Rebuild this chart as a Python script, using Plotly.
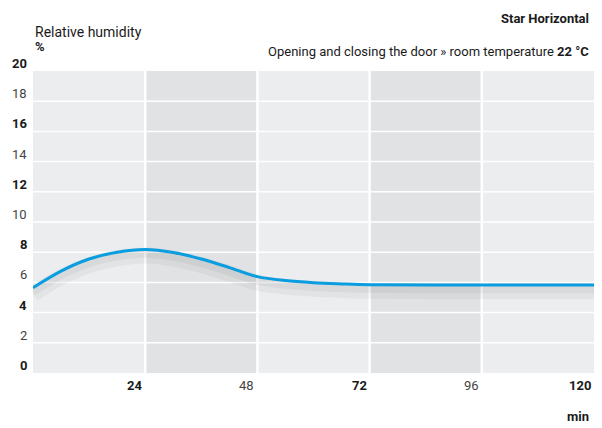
import plotly.graph_objects as go

# ---- data ----
minutes = [0, 6, 12, 18, 24, 30, 36, 42, 48, 54, 60, 66, 72, 96, 120]
humidity = [5.65, 6.75, 7.55, 8.0, 8.18, 7.98, 7.55, 6.98, 6.38, 6.12, 5.98, 5.9, 5.84, 5.82, 5.82]

x_ticks = [24, 48, 72, 96, 120]
x_bold = [True, False, True, False, True]
y_ticks = [0, 2, 4, 6, 8, 10, 12, 14, 16, 18, 20]
y_bold = [True, False, True, False, True, False, True, False, True, False, True]
dark_bands = [(24, 48), (72, 96)]

FONT = "Roboto, sans-serif"
DARK = "#1a1a1a"
LIGHT = "#444444"

fig = go.Figure()

# soft shadow under the line
fig.add_trace(go.Scatter(x=minutes, y=[v - 0.4 for v in humidity], mode="lines",
                         line=dict(color="rgba(0,0,0,0.04)", width=16, shape="spline", smoothing=0.9),
                         hoverinfo="skip", showlegend=False))
fig.add_trace(go.Scatter(x=minutes, y=[v - 0.28 for v in humidity], mode="lines",
                         line=dict(color="rgba(0,0,0,0.045)", width=8, shape="spline", smoothing=0.9),
                         hoverinfo="skip", showlegend=False))
fig.add_trace(go.Scatter(x=minutes, y=humidity, mode="lines",
                         line=dict(color="#0a9de0", width=3, shape="spline", smoothing=0.9),
                         showlegend=False))

shapes = []
for a, b in dark_bands:
    shapes.append(dict(type="rect", xref="x", yref="y", x0=a, x1=b, y0=0, y1=20,
                       fillcolor="#e1e2e4", line=dict(width=0), layer="below"))
for yv in y_ticks[1:-1]:
    shapes.append(dict(type="line", xref="x", yref="y", x0=0, x1=120, y0=yv, y1=yv,
                       line=dict(color="white", width=1.5), layer="below"))
for xv in x_ticks[:-1]:
    shapes.append(dict(type="line", xref="x", yref="y", x0=xv, x1=xv, y0=0, y1=20,
                       line=dict(color="white", width=2.5), layer="below"))

ann = []
for v, b in zip(y_ticks, y_bold):
    ann.append(dict(x=0, y=v, xref="x", yref="y", xanchor="right", yanchor="bottom",
                    xshift=-4, yshift=-2, showarrow=False,
                    text=f"<b>{v}</b>" if b else str(v),
                    font=dict(family=FONT, size=13, color=DARK if b else LIGHT)))
for v, b in zip(x_ticks, x_bold):
    ann.append(dict(x=v, y=0, xref="x", yref="y", xanchor="right", yanchor="top",
                    xshift=-1, yshift=-3, showarrow=False,
                    text=f"<b>{v}</b>" if b else str(v),
                    font=dict(family=FONT, size=13, color=DARK if b else LIGHT)))

ann += [
    dict(x=0, y=1, xref="paper", yref="paper", xanchor="left", yanchor="middle", yshift=39,
         showarrow=False, text="Relative humidity", font=dict(family=FONT, size=14, color=DARK)),
    dict(x=0, y=1, xref="paper", yref="paper", xanchor="left", yanchor="middle", yshift=25,
         showarrow=False, text="<b>%</b>", font=dict(family=FONT, size=13, color=DARK)),
    dict(x=1, y=1, xref="paper", yref="paper", xanchor="right", yanchor="middle", yshift=53,
         xshift=-3, showarrow=False, text="<b>Star Horizontal</b>",
         font=dict(family=FONT, size=13, color=DARK)),
    dict(x=1, y=1, xref="paper", yref="paper", xanchor="right", yanchor="middle", yshift=20,
         xshift=-3, showarrow=False,
         text="Opening and closing the door » room temperature <b>22 °C</b>",
         font=dict(family=FONT, size=13, color=DARK)),
    dict(x=1, y=0, xref="paper", yref="paper", xanchor="right", yanchor="middle", yshift=-43,
         xshift=-3, showarrow=False, text="<b>min</b>",
         font=dict(family=FONT, size=13, color=DARK)),
]

fig.update_layout(
    width=602, height=428,
    margin=dict(l=33, r=8, t=71, b=55),
    paper_bgcolor="white",
    plot_bgcolor="#ecedee",
    xaxis=dict(range=[0, 120], showgrid=False, zeroline=False, showticklabels=False,
               fixedrange=True),
    yaxis=dict(range=[0, 20], showgrid=False, zeroline=False, showticklabels=False,
               fixedrange=True),
    shapes=shapes,
    annotations=ann,
    font=dict(family=FONT),
)

fig.write_html("out.html", post_script="document.body.style.margin='0';",
               config={"displayModeBar": False})
